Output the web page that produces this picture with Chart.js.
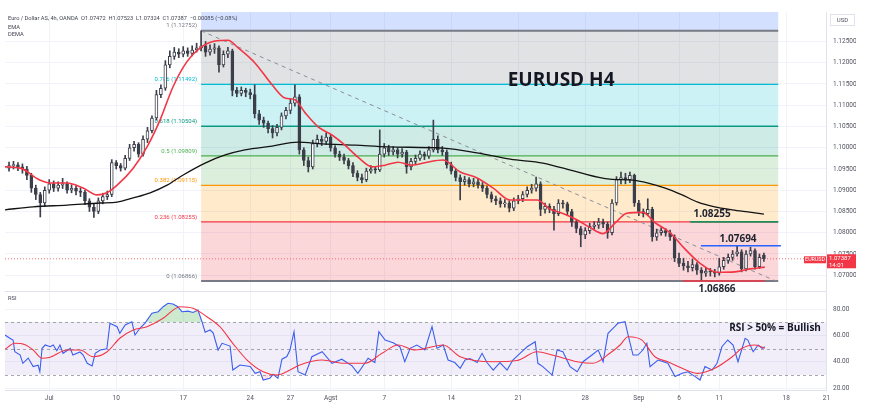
<!DOCTYPE html>
<html><head><meta charset="utf-8">
<script src="https://cdn.jsdelivr.net/npm/chart.js@4.4.0/dist/chart.umd.min.js"></script>
<style>
html,body{margin:0;padding:0;background:#fff;}
#wrap{position:relative;width:870px;height:419px;overflow:hidden;background:#fff;}
#c1{position:absolute;left:0;top:0;width:870px;height:292px;}
#c2{position:absolute;left:0;top:292px;width:870px;height:127px;}
</style></head><body>
<div id="wrap"><canvas id="c1" width="870" height="292"></canvas><canvas id="c2" width="870" height="127"></canvas></div>
<script>
// ---------- DATA ----------
const tickDays = [0,5,10,15,18,21,25,30,35,40,44,47,50,55,58];
const tickLabels = ['Jul','10','17','24','27','Agst','7','14','21','28','Sep','6','11','18','21'];
const priceTicks = [1.070,1.075,1.080,1.085,1.090,1.095,1.100,1.105,1.110,1.115,1.120,1.125];
const rsiTicks = [20,40,60,80];

const opens = [
1.0952,1.0958,1.0960,1.0955,1.0950,1.0935,1.0905,1.0890,1.0870,1.0900,
1.0915,1.0905,1.0912,1.0915,1.0900,1.0905,1.0898,1.0895,1.0875,1.0860,
1.0850,1.0875,1.0885,1.0890,1.0965,1.0958,1.0952,1.0975,1.1000,1.1008,
1.0985,1.1020,1.1040,1.1070,1.1125,1.1140,1.1195,1.1215,1.1225,1.1220,
1.1228,1.1222,1.1230,1.1235,1.1240,1.1225,1.1232,1.1235,1.1195,1.1220,
1.1228,1.1135,1.1128,1.1135,1.1130,1.1125,1.1080,1.1065,1.1058,1.1045,
1.1035,1.1048,1.1075,1.1088,1.1105,1.1120,1.0995,1.0970,1.0955,1.1010,
1.1020,1.1015,1.1025,1.1000,1.0985,1.0978,1.0970,1.0958,1.0940,1.0930,
1.0925,1.0945,1.0950,1.0948,1.0985,1.1000,1.0990,1.0995,1.0985,1.0990,
1.0955,1.0968,1.0975,1.0985,1.0980,1.0995,1.1020,1.0995,1.0990,1.0960,
1.0945,1.0930,1.0920,1.0925,1.0915,1.0920,1.0912,1.0905,1.0890,1.0880,
1.0875,1.0868,1.0870,1.0858,1.0875,1.0880,1.0890,1.0900,1.0905,1.0915,
1.0855,1.0862,1.0855,1.0845,1.0870,1.0868,1.0850,1.0825,1.0810,1.0795,
1.0805,1.0815,1.0818,1.0825,1.0820,1.0800,1.0870,1.0925,1.0930,1.0925,
1.0935,1.0870,1.0850,1.0845,1.0855,1.0790,1.0800,1.0805,1.0800,1.0790,
1.0740,1.0728,1.0722,1.0718,1.0725,1.0712,1.0705,1.0710,1.0708,1.0705,
1.0720,1.0735,1.0742,1.0750,1.0755,1.0715,1.0750,1.0758,1.0720,1.07472];
const highs = [
1.0966,1.0968,1.0965,1.0962,1.0956,1.0940,1.0912,1.0895,1.0908,1.0925,
1.0922,1.0920,1.0928,1.0920,1.0913,1.0910,1.0905,1.0900,1.0880,1.0868,
1.0882,1.0893,1.0898,1.0972,1.0970,1.0963,1.0982,1.1008,1.1015,1.1012,
1.1028,1.1048,1.1075,1.1135,1.1148,1.1205,1.1228,1.1236,1.1233,1.1238,
1.1235,1.1240,1.1246,1.12752,1.1250,1.1242,1.1245,1.1240,1.1228,1.1236,
1.1232,1.1142,1.1143,1.1140,1.1138,1.1148,1.1088,1.1072,1.1063,1.1052,
1.1055,1.1082,1.1095,1.1115,1.1148,1.1125,1.1000,1.0978,1.1018,1.1030,
1.1028,1.1035,1.1030,1.1005,1.0992,1.0985,1.0975,1.0965,1.0946,1.0938,
1.0952,1.0958,1.0956,1.1042,1.1010,1.1006,1.1003,1.1000,1.0998,1.0994,
1.0975,1.0983,1.0993,1.0990,1.1003,1.1065,1.1028,1.1003,1.0995,1.0966,
1.0950,1.0936,1.0933,1.0930,1.0928,1.0926,1.0918,1.0910,1.0896,1.0886,
1.0882,1.0878,1.0875,1.0882,1.0888,1.0897,1.0908,1.0914,1.0931,1.0920,
1.0870,1.0868,1.0862,1.0878,1.0876,1.0872,1.0855,1.0830,1.0815,1.0812,
1.0822,1.0826,1.0834,1.0832,1.0825,1.0878,1.0932,1.0943,1.0940,1.0943,
1.0938,1.0876,1.0856,1.0880,1.0860,1.0808,1.0812,1.0810,1.0806,1.0795,
1.0752,1.0740,1.0733,1.0738,1.0730,1.0718,1.0718,1.0716,1.0714,1.0740,
1.0742,1.0750,1.0758,1.0769,1.0760,1.0758,1.0766,1.0762,1.0750,1.07523];
const lows = [
1.0945,1.0950,1.0946,1.0940,1.0925,1.0895,1.0878,1.0837,1.0862,1.0893,
1.0897,1.0898,1.0904,1.0893,1.0894,1.0889,1.0885,1.0866,1.0850,1.0836,
1.0845,1.0868,1.0878,1.0885,1.0950,1.0945,1.0948,1.0970,1.0992,1.0978,
1.0980,1.1012,1.1035,1.1065,1.1118,1.1135,1.1188,1.1208,1.1212,1.1214,
1.1215,1.1216,1.1225,1.1228,1.1215,1.1218,1.1222,1.1178,1.1190,1.1212,
1.1122,1.1120,1.1122,1.1120,1.1115,1.1070,1.1055,1.1048,1.1035,1.1023,
1.1028,1.1042,1.1068,1.1080,1.1098,1.0985,1.0958,1.0943,1.0950,1.1002,
1.1005,1.1008,1.0992,1.0978,1.0970,1.0962,1.0950,1.0932,1.0922,1.0917,
1.0920,1.0940,1.0940,1.0944,1.0978,1.0982,1.0983,1.0976,1.0978,1.0940,
1.0948,1.0962,1.0970,1.0972,1.0975,1.0990,1.0988,1.0982,1.0952,1.0938,
1.0922,1.0877,1.0912,1.0908,1.0908,1.0905,1.0897,1.0882,1.0872,1.0866,
1.0860,1.0860,1.0849,1.0852,1.0868,1.0873,1.0884,1.0893,1.0898,1.0840,
1.0846,1.0847,1.0806,1.0840,1.0858,1.0840,1.0815,1.0800,1.0767,1.0786,
1.0798,1.0808,1.0810,1.0812,1.0787,1.0795,1.0865,1.0915,1.0915,1.0918,
1.0862,1.0840,1.0837,1.0840,1.0780,1.0782,1.0794,1.0792,1.0782,1.0732,
1.0720,1.0712,1.0708,1.0710,1.0702,1.0688,1.0697,1.0698,1.0696,1.0700,
1.0714,1.0728,1.0735,1.0745,1.0708,1.0710,1.0745,1.0714,1.0716,1.07324];
const closes = [
1.0958,1.0960,1.0955,1.0950,1.0935,1.0905,1.0890,1.0870,1.0900,1.0915,
1.0905,1.0912,1.0915,1.0900,1.0905,1.0898,1.0895,1.0875,1.0860,1.0850,
1.0875,1.0885,1.0890,1.0965,1.0958,1.0952,1.0975,1.1000,1.1008,1.0985,
1.1020,1.1040,1.1070,1.1125,1.1140,1.1195,1.1215,1.1225,1.1220,1.1228,
1.1222,1.1230,1.1235,1.1240,1.1225,1.1232,1.1235,1.1195,1.1220,1.1228,
1.1135,1.1128,1.1135,1.1130,1.1125,1.1080,1.1065,1.1058,1.1045,1.1035,
1.1048,1.1075,1.1088,1.1105,1.1120,1.0995,1.0970,1.0955,1.1010,1.1020,
1.1015,1.1025,1.1000,1.0985,1.0978,1.0970,1.0958,1.0940,1.0930,1.0925,
1.0945,1.0950,1.0948,1.0985,1.1000,1.0990,1.0995,1.0985,1.0990,1.0955,
1.0968,1.0975,1.0985,1.0980,1.0995,1.1020,1.0995,1.0990,1.0960,1.0945,
1.0930,1.0920,1.0925,1.0915,1.0920,1.0912,1.0905,1.0890,1.0880,1.0875,
1.0868,1.0870,1.0858,1.0875,1.0880,1.0890,1.0900,1.0905,1.0915,1.0855,
1.0862,1.0855,1.0845,1.0870,1.0868,1.0850,1.0825,1.0810,1.0795,1.0805,
1.0815,1.0818,1.0825,1.0820,1.0800,1.0870,1.0925,1.0930,1.0925,1.0935,
1.0870,1.0850,1.0845,1.0855,1.0790,1.0800,1.0805,1.0800,1.0790,1.0740,
1.0728,1.0722,1.0718,1.0725,1.0712,1.0705,1.0710,1.0708,1.0705,1.0720,
1.0735,1.0742,1.0750,1.0755,1.0715,1.0750,1.0758,1.0720,1.0742,1.07387];

// EMA (red) and long MA (black), read at bar positions
const emaIdx = [-0.9,2.5,6.9,9.2,13.0,16.6,19.7,21.9,24.2,27.8,30.9,33.8,36.7,39.8,42.8,46.1,49.0,51.3,55.1,58.9,61.8,64.0,66.3,69.2,72.3,75.2,78.1,81.3,84.2,87.1,90.2,93.6,97.2,101.0,104.8,108.4,112.2,116.0,118.2,121.1,124.0,127.2,130.1,133.0,135.7,138.3,141.9,144.6,148.0,151.3,154.7,158.5,162.5,165.9,169.2];
const emaVals = [1.0955,1.0952,1.0924,1.0917,1.0917,1.0905,1.0889,1.0894,1.0912,1.0952,1.1002,1.1065,1.1143,1.1202,1.1235,1.1251,1.1253,1.1235,1.1199,1.1148,1.1117,1.1113,1.1082,1.1049,1.1030,1.1006,1.0978,1.0955,1.0959,1.0966,1.0959,1.0966,1.0971,1.0943,1.0929,1.0905,1.0877,1.0877,1.0877,1.0856,1.0845,1.0830,1.0812,1.0798,1.0823,1.0846,1.0848,1.0824,1.0800,1.0762,1.0728,1.0707,1.0708,1.0715,1.0719];
const maIdx = [-0.9,5.4,13.0,20.4,24.2,27.8,31.6,35.4,39.0,43.9,48.4,52.8,58.9,64.7,70.1,77.5,84.8,97.2,104.8,112.2,119.5,127.2,134.5,139.5,143.1,146.9,150.7,154.2,158.0,161.9,165.4,169.0];
const maVals = [1.0854,1.0861,1.0865,1.0870,1.0872,1.0882,1.0894,1.0912,1.0936,1.0964,1.0983,1.0995,1.1004,1.1013,1.1009,1.1006,1.1002,1.0999,1.0988,1.0973,1.0964,1.0943,1.0926,1.0924,1.0917,1.0905,1.0889,1.0872,1.0861,1.0854,1.0849,1.0844];

// Fibonacci retracement
const fibLabels = ['1','0.786','0.618','0.5','0.382','0.236','0'];
const fibPrices = [1.12752,1.11492,1.10504,1.09809,1.09115,1.08255,1.06866];
const fibStartIdx = 43, fibEndIdx = 172.2;
const trendFrom = [43, 1.12752], trendTo = [172.2, 1.0684];

// Annotated levels
const levelPrices = [1.08255, 1.07694, 1.06866];
const levelFrom = [152.5, 154.9, 150.9];
const levelTo = [172.2, 172.8, 169.2];
const levelLabelIdx = [157.4, 163.2, 158.5];
const titleIdx = 123.6, titlePrice = 1.1157;
const lastClose = 1.07387;

// RSI
const rsiIdx = [-0.9,0.2,0.9,1.3,2.5,3.1,4.3,5.4,6.5,6.9,7.4,8.1,9.2,9.9,10.7,11.4,12.1,13.7,14.3,15.9,16.6,17.5,18.6,19.3,20.4,21.9,22.6,24.2,24.8,26.0,27.5,28.2,29.3,30.4,32.0,33.4,34.5,35.6,36.7,37.8,38.7,40.1,41.2,42.3,43.2,43.9,45.0,45.7,46.8,47.7,49.5,50.1,51.7,54.0,55.1,56.2,56.9,58.4,59.1,60.2,61.1,62.2,62.9,63.8,64.7,66.3,67.8,70.1,72.3,74.5,76.8,78.1,80.4,81.9,82.8,84.2,86.0,87.5,88.6,89.8,91.3,93.1,94.7,95.8,97.2,98.3,99.8,101.0,102.1,103.2,104.8,105.9,107.0,108.4,109.9,111.5,112.8,114.4,116.0,117.8,118.4,119.5,121.6,122.7,124.0,125.6,127.2,128.5,130.5,131.9,133.0,134.1,135.6,136.3,137.9,138.6,139.7,140.8,141.9,142.8,143.5,145.3,147.5,149.1,150.7,152.0,153.6,154.7,155.8,157.4,158.5,159.6,160.9,162.1,163.2,164.8,165.4,166.6,167.7,168.6,169.2];
const rsiVals = [60.4,57.9,56.6,47.7,45.2,38.9,42.9,36.4,37.5,32.5,50.3,52.8,51.5,52.8,48.5,52.8,46.5,50.3,45.2,47.5,45.2,38.9,36.9,46.5,49.0,50.0,69.3,66.7,61.7,68.0,70.5,60.4,65.5,69.3,76.9,78.1,81.9,84.5,84.0,81.9,78.1,78.5,77.5,79.4,70.5,62.5,64.2,62.0,49.0,54.1,52.0,33.8,37.6,36.5,31.3,32.5,26.2,27.5,30.5,27.5,42.0,44.0,49.0,62.9,32.5,30.0,43.9,47.7,38.9,42.0,37.0,31.3,42.7,39.5,62.9,56.6,54.5,51.5,40.1,50.3,52.8,49.0,66.7,50.3,52.8,41.4,39.5,35.1,41.4,42.5,39.5,46.5,39.5,33.8,39.5,33.8,41.4,46.5,51.5,55.3,38.9,36.4,30.0,49.0,47.7,36.4,32.5,40.1,45.2,49.0,40.1,61.7,66.7,69.3,70.5,60.4,45.2,45.2,49.0,54.1,36.4,41.4,38.9,28.8,31.3,32.5,28.8,26.2,36.4,33.8,38.9,51.5,56.6,52.8,40.1,57.9,56.6,47.7,52.8,50.3,51.5];
const rsiMaIdx = [-0.9,1.3,3.6,5.4,7.4,9.2,13.0,15.9,18.8,21.9,24.8,27.8,30.9,34.5,38.3,41.2,44.3,47.2,50.1,53.3,56.9,60.0,62.9,65.1,70.1,75.2,79.7,83.5,87.1,90.9,97.2,101.0,108.4,113.7,118.2,121.8,127.2,130.7,134.5,136.8,138.6,141.7,144.6,147.5,150.7,154.2,158.0,161.9,164.1,167.0,169.2];
const rsiMaVals = [49.5,54.1,53.0,49.0,42.7,43.5,49.0,49.0,43.9,47.5,57.9,64.2,66.7,73.1,81.9,80.7,74.3,66.7,54.1,41.4,32.5,30.0,33.8,37.6,41.4,38.9,38.9,46.5,52.8,49.0,52.8,43.9,40.1,41.0,47.7,45.0,40.1,38.9,46.5,52.8,59.1,56.5,43.9,40.1,35.1,31.3,35.1,43.9,50.3,52.8,50.3];
const rsiLevels = [70, 50, 30];

// ---------- LAYOUT / STYLE ----------
const X_MIN = -0.9, X_MAX = 182.9;
const Y_MIN = 1.06629, Y_MAX = 1.13194;
const R_MIN = 18.64, R_MAX = 93.05;
const firstDay = -3, barsPerDay = 3;
const tickIdx = tickDays.map(d => (d - firstDay) * barsPerDay);
const fibColors = ['#787b86','#00bcd4','#089981','#4caf50','#ff9800','#f23645','#787b86'];
const fibFills = ['rgba(120,123,134,0.22)','rgba(0,188,212,0.2)','rgba(8,153,129,0.2)','rgba(76,175,80,0.2)','rgba(255,152,0,0.2)','rgba(242,54,69,0.2)'];
const fibTopFill = 'rgba(41,98,255,0.2)';
const levelColors = ['#1f8f5f','#2962ff','#f23645'];
const levelLabelOffset = [-8, -7, 8.5];
const GRID = '#f0f3fa', BORDER = '#e0e3eb', AXTXT = '#50535e';
const axFont = {family:'Roboto', size:6.5};

function xScale(showLabels){
  return {
    type:'linear', min:X_MIN, max:X_MAX, offset:false,
    afterBuildTicks: s => { s.ticks = tickIdx.map(v => ({value:v})); },
    ticks:{display:showLabels, autoSkip:false, maxRotation:0, padding:4, font:axFont, color:AXTXT,
      callback:(v,i) => tickLabels[i]},
    grid:{color:GRID, drawTicks:false, offset:false},
    border:{display:true, color:BORDER},
    afterFit: s => { s.height = showLabels ? 22 : 0; s.paddingLeft = 0; s.paddingRight = 0; }
  };
}
function yFit(s){ s.width = 30; s.paddingTop = 0; s.paddingBottom = 0; }

const pricePlugin = {
  id:'pricePane',
  beforeDatasetsDraw(chart){
    const ctx = chart.ctx, a = chart.chartArea, X = chart.scales.x, Y = chart.scales.y;
    const x0 = X.getPixelForValue(fibStartIdx), x1 = X.getPixelForValue(fibEndIdx);
    ctx.save();
    ctx.beginPath(); ctx.rect(a.left, a.top, a.right-a.left, a.bottom-a.top); ctx.clip();
    ctx.fillStyle = fibTopFill;
    ctx.fillRect(x0, a.top, x1-x0, Y.getPixelForValue(fibPrices[0]) - a.top);
    for (let k=0;k<fibPrices.length-1;k++){
      const ya = Y.getPixelForValue(fibPrices[k]), yb = Y.getPixelForValue(fibPrices[k+1]);
      ctx.fillStyle = fibFills[k];
      ctx.fillRect(x0, ya, x1-x0, yb-ya);
    }
    for (let k=0;k<fibPrices.length;k++){
      const yy = Y.getPixelForValue(fibPrices[k]);
      ctx.strokeStyle = fibColors[k];
      ctx.lineWidth = (k===0 || k===fibPrices.length-1) ? 2 : 1.4;
      ctx.beginPath(); ctx.moveTo(x0, yy); ctx.lineTo(x1, yy); ctx.stroke();
      ctx.fillStyle = fibColors[k];
      ctx.font = '6px Roboto';
      ctx.textAlign = 'right'; ctx.textBaseline = 'middle';
      ctx.fillText(fibLabels[k] + ' (' + fibPrices[k].toFixed(5) + ')', x0 - 4, yy - 4.8);
    }
    ctx.strokeStyle = '#8a8d96'; ctx.lineWidth = 1; ctx.setLineDash([4,4]);
    ctx.beginPath();
    ctx.moveTo(X.getPixelForValue(trendFrom[0]), Y.getPixelForValue(trendFrom[1]));
    ctx.lineTo(X.getPixelForValue(trendTo[0]), Y.getPixelForValue(trendTo[1]));
    ctx.stroke();
    const yc = Y.getPixelForValue(lastClose);
    ctx.strokeStyle = 'rgba(242,54,69,0.7)'; ctx.setLineDash([1,2]);
    ctx.beginPath(); ctx.moveTo(a.left, yc); ctx.lineTo(a.right, yc); ctx.stroke();
    ctx.setLineDash([]);
    ctx.restore();
  },
  afterDatasetsDraw(chart){
    const ctx = chart.ctx, X = chart.scales.x, Y = chart.scales.y;
    ctx.save();
    for (let k=0;k<levelPrices.length;k++){
      const yy = Y.getPixelForValue(levelPrices[k]);
      ctx.strokeStyle = levelColors[k]; ctx.lineWidth = 1.6;
      ctx.beginPath(); ctx.moveTo(X.getPixelForValue(levelFrom[k]), yy); ctx.lineTo(X.getPixelForValue(levelTo[k]), yy); ctx.stroke();
      ctx.fillStyle = '#1e222d'; ctx.font = 'bold 10px "Open Sans"';
      ctx.textAlign = 'center'; ctx.textBaseline = 'middle';
      ctx.fillText(levelPrices[k].toFixed(5), X.getPixelForValue(levelLabelIdx[k]), yy + levelLabelOffset[k]);
    }
    ctx.fillStyle = '#131722'; ctx.font = 'bold 19px "Open Sans"';
    ctx.textAlign = 'center'; ctx.textBaseline = 'middle';
    ctx.fillText('EURUSD H4', X.getPixelForValue(titleIdx), Y.getPixelForValue(titlePrice));
    ctx.restore();
  },
  afterDraw(chart){
    const ctx = chart.ctx, Y = chart.scales.y, a = chart.chartArea;
    ctx.save();
    ctx.fillStyle = '#434651'; ctx.font = '5.7px Roboto'; ctx.textAlign = 'left'; ctx.textBaseline = 'middle';
    ctx.fillText('Euro / Dollar AS, 4h, OANDA  O1.07472  H1.07523  L1.07324  C1.07387  \u22120.00085 (\u22120.08%)', 8, 19);
    ctx.fillText('EMA', 8, 28);
    ctx.fillText('DEMA', 8, 35);
    ctx.fillStyle = '#ffffff'; ctx.strokeStyle = BORDER; ctx.lineWidth = 1;
    ctx.fillRect(830.5, 14.5, 24, 11); ctx.strokeRect(830.5, 14.5, 24, 11);
    ctx.fillStyle = AXTXT; ctx.font = '6px Roboto'; ctx.textAlign = 'center';
    ctx.fillText('USD', 842.5, 20.5);
    const yc = Y.getPixelForValue(lastClose);
    ctx.fillStyle = '#f23645';
    ctx.fillRect(a.right + 1, yc - 4.5, 29, 14);
    ctx.fillRect(a.right - 22, yc - 2.5, 22, 7);
    ctx.fillStyle = '#ffffff'; ctx.font = '6px Roboto'; ctx.textAlign = 'left';
    ctx.fillText(lastClose.toFixed(5), a.right + 3, yc);
    ctx.fillText('14:01', a.right + 3, yc + 6.5);
    ctx.font = '5.3px Roboto'; ctx.textAlign = 'center';
    ctx.fillText('EURUSD', a.right - 11, yc + 1);
    ctx.restore();
  }
};

const wickData = lows.map((l,i) => ({x:i, y:[l, highs[i]]}));
const bodyData = closes.map((c,i) => ({x:i, y:[opens[i], c]}));
const bodyColors = closes.map((c,i) => c >= opens[i] ? '#ffffff' : '#3c3f4a');

new Chart(document.getElementById('c1'), {
  type:'bar',
  data:{datasets:[
    {type:'line', data:emaIdx.map((x,k)=>({x, y:emaVals[k]})), borderColor:'#f23645', borderWidth:1.6, pointRadius:0, cubicInterpolationMode:'monotone', order:0},
    {type:'line', data:maIdx.map((x,k)=>({x, y:maVals[k]})), borderColor:'#131313', borderWidth:1.3, pointRadius:0, cubicInterpolationMode:'monotone', order:1},
    {data:bodyData, backgroundColor:bodyColors, borderColor:'#3c3f4a', borderWidth:1, borderSkipped:false, barThickness:3, minBarLength:1, grouped:false, order:2},
    {data:wickData, backgroundColor:'#3c3f4a', borderWidth:0, barThickness:1, grouped:false, order:3}
  ]},
  options:{
    responsive:false, animation:false, events:[],
    layout:{padding:{left:5, right:14, top:12, bottom:1}},
    plugins:{legend:{display:false}, tooltip:{enabled:false}},
    scales:{
      x: xScale(false),
      y:{type:'linear', position:'right', min:Y_MIN, max:Y_MAX,
        afterBuildTicks: s => { s.ticks = priceTicks.map(v => ({value:v})); },
        ticks:{padding:7, font:axFont, color:AXTXT, callback: v => v.toFixed(5)},
        grid:{color:GRID, drawTicks:false}, border:{display:true, color:BORDER},
        afterFit: yFit}
    }
  },
  plugins:[pricePlugin]
});

const rsiPlugin = {
  id:'rsiPane',
  beforeDatasetsDraw(chart){
    const ctx = chart.ctx, a = chart.chartArea, Y = chart.scales.y;
    ctx.save();
    const y70 = Y.getPixelForValue(rsiLevels[0]), y30 = Y.getPixelForValue(rsiLevels[2]);
    ctx.fillStyle = 'rgba(126,87,194,0.1)';
    ctx.fillRect(a.left, y70, a.right-a.left, y30-y70);
    ctx.strokeStyle = 'rgba(120,123,134,0.65)'; ctx.lineWidth = 1; ctx.setLineDash([3,3]);
    rsiLevels.forEach(v => { const yy = Math.round(Y.getPixelForValue(v)) + 0.5;
      ctx.beginPath(); ctx.moveTo(a.left, yy); ctx.lineTo(a.right, yy); ctx.stroke(); });
    ctx.setLineDash([]);
    ctx.restore();
  },
  afterDatasetsDraw(chart){
    const ctx = chart.ctx, X = chart.scales.x, Y = chart.scales.y;
    ctx.save();
    ctx.fillStyle = '#434651'; ctx.font = '5.7px Roboto'; ctx.textAlign = 'left'; ctx.textBaseline = 'middle';
    ctx.fillText('RSI', 8, 7);
    ctx.fillStyle = '#131722'; ctx.font = 'bold 10px "Open Sans"'; ctx.textAlign = 'center';
    ctx.fillText('RSI > 50% = Bullish', X.getPixelForValue(171.5), Y.getPixelForValue(65.7));
    ctx.restore();
  }
};

const rsiPts = rsiIdx.map((x,k)=>({x, y:rsiVals[k]}));
new Chart(document.getElementById('c2'), {
  type:'line',
  data:{datasets:[
    {data:rsiMaIdx.map((x,k)=>({x, y:rsiMaVals[k]})), borderColor:'#f23645', borderWidth:1.1, pointRadius:0, cubicInterpolationMode:'monotone', fill:false, order:0},
    {data:rsiPts, borderColor:'#3a5ef0', borderWidth:1.1, pointRadius:0, tension:0,
      fill:{target:{value:70}, above:'rgba(76,175,80,0.28)', below:'rgba(0,0,0,0)'}, order:1},
    {data:rsiPts, borderColor:'rgba(0,0,0,0)', borderWidth:0, pointRadius:0, tension:0,
      fill:{target:{value:30}, above:'rgba(0,0,0,0)', below:'rgba(242,54,69,0.15)'}, order:2}
  ]},
  options:{
    responsive:false, animation:false, events:[],
    layout:{padding:{left:5, right:14, top:0, bottom:7}},
    plugins:{legend:{display:false}, tooltip:{enabled:false}},
    scales:{
      x: xScale(true),
      y:{type:'linear', position:'right', min:R_MIN, max:R_MAX,
        afterBuildTicks: s => { s.ticks = rsiTicks.map(v => ({value:v})); },
        ticks:{padding:7, font:axFont, color:AXTXT, callback: v => v.toFixed(2)},
        grid:{color:GRID, drawTicks:false}, border:{display:true, color:BORDER},
        afterFit: yFit}
    }
  },
  plugins:[rsiPlugin]
});
</script>
</body></html>
